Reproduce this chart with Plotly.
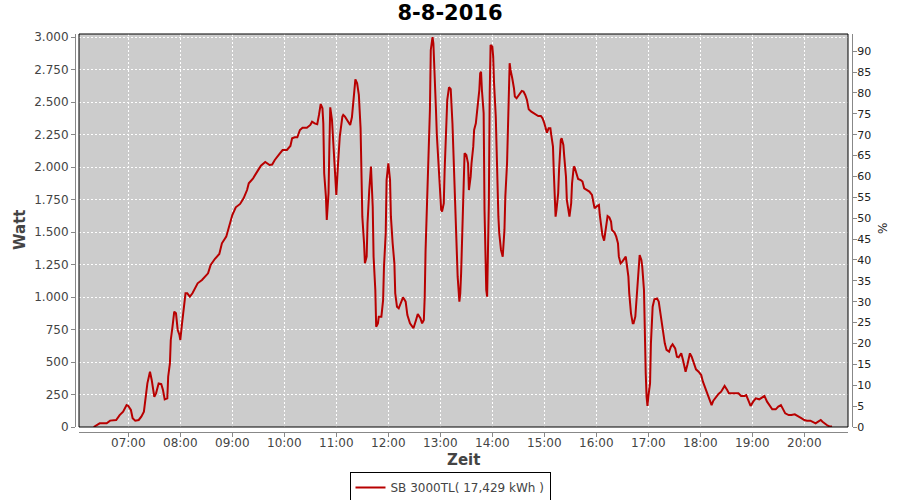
import plotly.graph_objects as go

# ---------------- data ----------------
day = "2016-08-08"
times = [
    "06:20", "06:27", "06:35", "06:39", "06:46", "06:50", "06:54", "06:58", "07:00", "07:03",
    "07:05", "07:08", "07:12", "07:15", "07:18", "07:20", "07:22", "07:25", "07:27", "07:30",
    "07:32", "07:35", "07:38", "07:40", "07:42", "07:45", "07:46", "07:48", "07:49", "07:51",
    "07:53", "07:55", "07:57", "07:59", "08:00", "08:02", "08:04", "08:06", "08:08", "08:11",
    "08:14", "08:17", "08:20", "08:25", "08:29", "08:32", "08:35", "08:40", "08:45", "08:48",
    "08:53", "08:56", "09:00", "09:04", "09:09", "09:13", "09:17", "09:19", "09:24", "09:28",
    "09:33", "09:38", "09:43", "09:46", "09:49", "09:54", "09:58", "10:03", "10:07", "10:09",
    "10:12", "10:15", "10:18", "10:21", "10:26", "10:30", "10:32", "10:35", "10:38", "10:40",
    "10:42", "10:44", "10:45", "10:46", "10:48", "10:49", "10:51", "10:52", "10:53", "10:55",
    "10:57", "10:58", "11:00", "11:02", "11:04", "11:07", "11:08", "11:10", "11:14", "11:16",
    "11:18", "11:20", "11:22", "11:24", "11:26", "11:28", "11:29", "11:30", "11:32", "11:33",
    "11:35", "11:36", "11:38", "11:40", "11:42", "11:43", "11:45", "11:46", "11:48", "11:49",
    "11:52", "11:54", "11:55", "11:57", "11:58", "12:00", "12:02", "12:03", "12:05", "12:07",
    "12:08", "12:10", "12:12", "12:15", "12:17", "12:20", "12:22", "12:25", "12:29", "12:32",
    "12:34", "12:37", "12:39", "12:41", "12:42", "12:43", "12:45", "12:46", "12:48", "12:49",
    "12:51", "12:52", "12:53", "12:55", "12:56", "12:58", "13:00", "13:01", "13:02", "13:04",
    "13:05", "13:07", "13:08", "13:10", "13:12", "13:14", "13:15", "13:17", "13:18", "13:19",
    "13:20", "13:22", "13:23", "13:24", "13:25", "13:26", "13:27", "13:28", "13:30", "13:32",
    "13:33", "13:35", "13:36", "13:38", "13:39", "13:41", "13:43", "13:45", "13:46", "13:47",
    "13:48", "13:50", "13:51", "13:52", "13:53", "13:54", "13:55", "13:56", "13:57", "13:58",
    "14:00", "14:01", "14:02", "14:04", "14:05", "14:06", "14:07", "14:08", "14:10", "14:12",
    "14:13", "14:14", "14:15", "14:17", "14:18", "14:19", "14:20", "14:21", "14:22", "14:23",
    "14:25", "14:26", "14:28", "14:31", "14:34", "14:36", "14:38", "14:40", "14:42", "14:45",
    "14:47", "14:50", "14:53", "14:56", "14:58", "15:00", "15:02", "15:03", "15:05", "15:07",
    "15:08", "15:10", "15:11", "15:12", "15:13", "15:14", "15:16", "15:17", "15:19", "15:20",
    "15:22", "15:23", "15:25", "15:26", "15:28", "15:29", "15:31", "15:32", "15:34", "15:35",
    "15:37", "15:39", "15:42", "15:44", "15:46", "15:49", "15:52", "15:55", "15:57", "15:58",
    "16:01", "16:03", "16:04", "16:06", "16:07", "16:09", "16:12", "16:13", "16:15", "16:17",
    "16:18", "16:21", "16:23", "16:25", "16:26", "16:28", "16:30", "16:32", "16:34", "16:35",
    "16:37", "16:38", "16:40", "16:42", "16:43", "16:45", "16:46", "16:48", "16:49", "16:50",
    "16:52", "16:53", "16:55", "16:56", "16:57", "16:58", "16:59", "17:00", "17:02", "17:03",
    "17:04", "17:05", "17:07", "17:10", "17:12", "17:13", "17:15", "17:17", "17:19", "17:21",
    "17:24", "17:26", "17:28", "17:31", "17:33", "17:35", "17:38", "17:40", "17:42", "17:43",
    "17:45", "17:47", "17:48", "17:50", "17:52", "17:55", "17:58", "18:01", "18:03", "18:05",
    "18:07", "18:09", "18:11", "18:13", "18:15", "18:18", "18:21", "18:24", "18:27", "18:28",
    "18:31", "18:33", "18:38", "18:44", "18:47", "18:51", "18:53", "18:56", "18:58", "19:01",
    "19:04", "19:08", "19:11", "19:14", "19:17", "19:20", "19:23", "19:27", "19:30", "19:33",
    "19:36", "19:38", "19:42", "19:45", "19:49", "19:53", "19:57", "20:00", "20:03", "20:07",
    "20:10", "20:13", "20:16", "20:19", "20:21", "20:24", "20:27", "20:30", "20:32",
]
watts = [
    0, 28, 28, 49, 54, 92, 118, 169, 162, 131,
    67, 49, 54, 80, 118, 208, 336, 426, 362, 233,
    259, 336, 331, 285, 213, 221, 387, 490, 670, 772,
    888, 875, 747, 708, 670, 798, 926, 1029, 1029, 1003,
    1029, 1067, 1106, 1132, 1157, 1183, 1247, 1295, 1332, 1414,
    1465, 1542, 1632, 1691, 1717, 1760, 1824, 1876, 1914, 1958,
    2012, 2040, 2017, 2020, 2055, 2099, 2132, 2132, 2163, 2222,
    2230, 2230, 2286, 2304, 2304, 2325, 2350, 2337, 2330, 2402,
    2486, 2453, 2337, 1953, 1773, 1594, 1799, 2158, 2461, 2363,
    2132, 1927, 1786, 2030, 2235, 2389, 2402, 2389, 2350, 2325,
    2384, 2504, 2676, 2646, 2556, 2299, 2030, 1619, 1414, 1260,
    1311, 1568, 1824, 2004, 1696, 1311, 1055, 772, 798, 849,
    849, 978, 1234, 1491, 1901, 2030, 1901, 1619, 1414, 1260,
    1029, 926, 914, 965, 998, 965, 862, 798, 760, 824,
    870, 837, 798, 824, 1003, 1363, 1747, 2081, 2440, 2902,
    3000, 2954, 2723, 2440, 2248, 1978, 1773, 1670, 1658, 1722,
    1978, 2389, 2517, 2615, 2600, 2338, 2132, 1876, 1594, 1363,
    1157, 965, 1029, 1183, 1414, 1645, 1850, 2107, 2094, 2030,
    1824, 1927, 2030, 2158, 2286, 2338, 2466, 2594, 2723, 2735,
    2594, 2415, 1670, 1286, 1055, 1003, 1286, 1722, 2569, 2941,
    2928, 2851, 2646, 2389, 2132, 1747, 1619, 1491, 1363, 1311,
    1414, 1517, 1773, 2030, 2286, 2517, 2800, 2748, 2723, 2684,
    2607, 2543, 2530, 2556, 2587, 2582, 2556, 2517, 2445, 2427,
    2420, 2409, 2394, 2394, 2376, 2338, 2291, 2266, 2299, 2299,
    2248, 2158, 1953, 1747, 1619, 1670, 1799, 1978, 2209, 2222,
    2171, 2081, 1927, 1747, 1645, 1619, 1722, 1876, 2004, 1999,
    1953, 1909, 1901, 1889, 1837, 1824, 1812, 1786, 1722, 1683,
    1701, 1709, 1632, 1542, 1478, 1434, 1568, 1624, 1614, 1581,
    1517, 1496, 1465, 1414, 1311, 1260, 1273, 1298, 1311, 1260,
    1157, 1029, 875, 798, 798, 849, 952, 1157, 1286, 1324,
    1286, 1234, 1055, 644, 413, 233, 162, 233, 336, 644,
    824, 926, 983, 990, 965, 914, 824, 721, 644, 593,
    580, 618, 636, 605, 541, 536, 567, 516, 452, 426,
    477, 554, 567, 541, 495, 444, 426, 400, 349, 310,
    280, 246, 195, 169, 203, 233, 254, 272, 298, 316,
    285, 259, 259, 259, 239, 239, 246, 195, 162, 195,
    221, 213, 228, 239, 195, 162, 136, 136, 157, 169,
    131, 105, 92, 92, 98, 85, 67, 54, 49, 49,
    41, 28, 41, 54, 41, 23, 10, 3, 3,
]
series_name = "SB 3000TL( 17,429 kWh )"
title_text = "8-8-2016"
x_range = ["2016-08-08 06:03:06", "2016-08-08 20:50:24"]
watt_range = [0, 3025]
pct_range = [0, 94.1]

# --------------- layout helpers (screen pixel -> paper) ---------------
FW, FH = 900, 500
OFF = 0  # body margin is removed by post_script below
ML, MR, MT, MB = 10, 10, 10, 10
PW, PH = FW - ML - MR, FH - MT - MB


def fx(px):
    return (px - OFF - ML) / PW


def fy(py):
    return (FH - MB - (py - OFF)) / PH


FONT = "DejaVu Sans"
GRID = dict(showgrid=True, gridcolor="white", gridwidth=1, griddash="2px,2px")

xs = [f"{day} {t}" for t in times]

fig = go.Figure()
fig.add_trace(go.Scatter(
    x=xs, y=watts, mode="lines", name=series_name,
    line=dict(color="#b80000", width=2), showlegend=True,
))
fig.add_trace(go.Scatter(x=[xs[0]], y=[None], yaxis="y2", showlegend=False,
                         hoverinfo="skip", mode="lines"))

fig.update_layout(
    width=FW, height=FH,
    margin=dict(l=ML, r=MR, t=MT, b=MB, autoexpand=False),
    paper_bgcolor="white",
    plot_bgcolor="#cccccc",
    separators=",.",
    font=dict(family=FONT, size=12, color="#444444"),
    title=dict(text=f"<b>{title_text}</b>", x=(450 - OFF) / FW, xref="container", xanchor="center",
               y=1 - (13 - OFF) / FH, yref="container", yanchor="middle",
               font=dict(family=FONT, size=21, color="black")),
    xaxis=dict(
        type="date", range=x_range, domain=[fx(79), fx(848)],
        anchor="free", position=fy(431.5),
        tickformat="%H:%M", dtick=3600000, tick0="2016-08-08 00:00",
        ticks="outside", ticklen=4, tickcolor="#888888",
        showline=True, linecolor="#888888", linewidth=1,
        tickfont=dict(family=FONT, size=12, color="#444444"),
        ticklabelstandoff=-4,
        zeroline=False, automargin=False, **GRID,
    ),
    yaxis=dict(
        range=watt_range, domain=[fy(427), fy(34)],
        anchor="free", position=fx(75),
        dtick=250, tick0=0, tickformat=",d",
        ticks="outside", ticklen=4, tickcolor="#888888",
        showline=True, linecolor="#888888", linewidth=1,
        tickfont=dict(family=FONT, size=12, color="#444444"),
        zeroline=False, automargin=False, **GRID,
    ),
    yaxis2=dict(
        range=pct_range, overlaying="y", side="right",
        anchor="free", position=fx(852),
        dtick=5, tick0=0,
        ticks="outside", ticklen=4, tickcolor="#888888",
        showline=True, linecolor="#888888", linewidth=1,
        tickfont=dict(family=FONT, size=11, color="#222222"),
        ticklabelstandoff=-2,
        showgrid=False, zeroline=False, automargin=False,
    ),
    legend=dict(
        x=fx(450), xanchor="center", y=fy(472), yanchor="top",
        bordercolor="black", borderwidth=1, bgcolor="white",
        font=dict(family=FONT, size=12, color="#444444"),
        itemwidth=30, orientation="h",
    ),
    shapes=[dict(type="rect", xref="paper", yref="paper",
                 x0=fx(79), x1=fx(848), y0=fy(427), y1=fy(34),
                 line=dict(color="black", width=1), layer="above")],
    annotations=[
        dict(text="<b>Watt</b>", xref="paper", yref="paper", x=fx(20), y=fy(230),
             showarrow=False, textangle=-90, font=dict(family=FONT, size=15, color="#444444"),
             xanchor="center", yanchor="middle"),
        dict(text="<b>Zeit</b>", xref="paper", yref="paper", x=fx(463), y=fy(460),
             showarrow=False, font=dict(family=FONT, size=15, color="#444444"),
             xanchor="center", yanchor="middle"),
        dict(text="%", xref="paper", yref="paper", x=fx(883), y=fy(229),
             showarrow=False, textangle=-90, font=dict(family=FONT, size=12, color="#222222"),
             xanchor="center", yanchor="middle"),
    ],
)

fig.write_html("out.html", config={"displayModeBar": False},
               post_script="document.body.style.margin='0px';")
